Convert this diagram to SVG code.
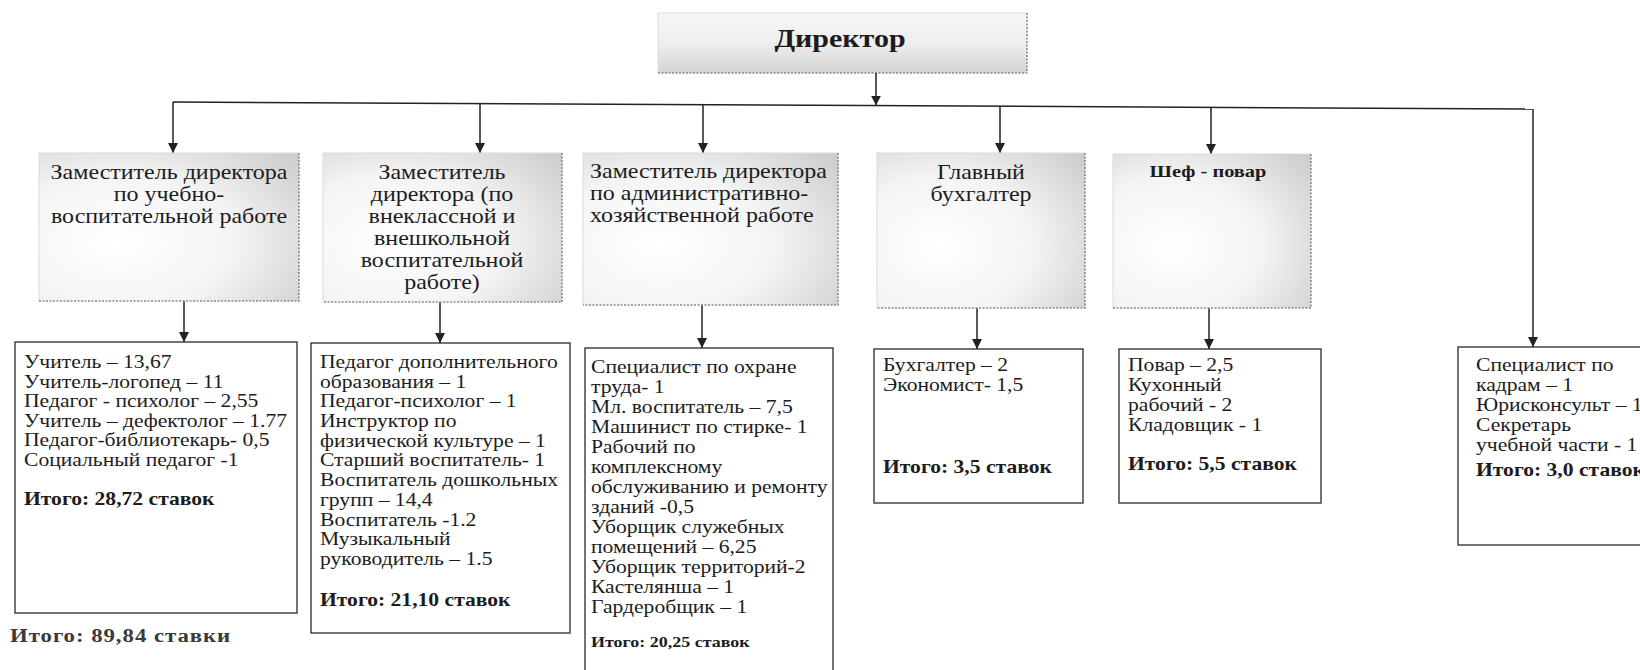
<svg xmlns="http://www.w3.org/2000/svg" width="1640" height="670" viewBox="0 0 1640 670">
<style>
.t{font-family:"Liberation Serif","Times New Roman",serif;font-size:18px;fill:#1c1c1c}
.h{font-size:20px}
.b{font-weight:bold}
.box{fill:#fff;stroke:#2a2a2a;stroke-width:1.3}
.edge{stroke:#8a8a8a;stroke-width:1.6;stroke-dasharray:2 1.5;fill:none}
.faint{stroke:#dadada;stroke-width:1;fill:none}
.ln{stroke:#222;stroke-width:1.5;fill:none}
</style>
<defs>
<radialGradient id="gL2" cx="0.3" cy="0.6" r="0.9">
<stop offset="0" stop-color="#ffffff"/>
<stop offset="0.5" stop-color="#f4f4f4"/>
<stop offset="1" stop-color="#cccccc"/>
</radialGradient>
<linearGradient id="gDir" x1="0" y1="0" x2="0" y2="1">
<stop offset="0" stop-color="#f7f7f7"/>
<stop offset="0.5" stop-color="#eeeeee"/>
<stop offset="1" stop-color="#d4d4d4"/>
</linearGradient>
<marker id="ah" viewBox="0 0 10 10" refX="10" refY="5" markerWidth="10" markerHeight="11" markerUnits="userSpaceOnUse" orient="auto">
<path d="M0,0 L10,5 L0,10 z" fill="#222"/>
</marker>
</defs>

<g id="director">
<rect x="658" y="13" width="369" height="60" fill="url(#gDir)"/>
<path class="faint" d="M658,73 V13 H1027"/>
<path class="edge" d="M1027,13 V73 H658"/>
<g transform="translate(840,0) scale(1.2,1)"><text class="t b" x="0" y="47" style="font-size:25px" text-anchor="middle">Директор</text></g>
</g>

<g id="connectors">
<path class="ln" d="M173,102 L1533,109"/>
<path class="ln" d="M876,73 V105.6" marker-end="url(#ah)"/>
<path class="ln" d="M173,102 V153" marker-end="url(#ah)"/>
<path class="ln" d="M480,103.6 V153" marker-end="url(#ah)"/>
<path class="ln" d="M703,104.7 V153" marker-end="url(#ah)"/>
<path class="ln" d="M1000,106.3 V153" marker-end="url(#ah)"/>
<path class="ln" d="M1211,107.3 V154" marker-end="url(#ah)"/>
<path class="ln" d="M1533,109 V347" marker-end="url(#ah)"/>
<path class="ln" d="M184,301 V342" marker-end="url(#ah)"/>
<path class="ln" d="M440,302 V343" marker-end="url(#ah)"/>
<path class="ln" d="M702,305 V348" marker-end="url(#ah)"/>
<path class="ln" d="M977,308 V349" marker-end="url(#ah)"/>
<path class="ln" d="M1209,308 V349" marker-end="url(#ah)"/>
</g>

<g id="dep1">
<rect x="39" y="153" width="260" height="148" fill="url(#gL2)"/>
<path class="faint" d="M39,301 V153 H299"/>
<path class="edge" d="M299,153 V301 H39"/>
<g transform="translate(169,0) scale(1.2,1)"><text class="t h" text-anchor="middle"><tspan x="0" y="179">Заместитель директора</tspan><tspan x="0" y="201">по учебно-</tspan><tspan x="0" y="223">воспитательной работе</tspan></text></g>
</g>

<g id="dep2">
<rect x="323" y="153" width="239" height="149" fill="url(#gL2)"/>
<path class="faint" d="M323,302 V153 H562"/>
<path class="edge" d="M562,153 V302 H323"/>
<g transform="translate(442,0) scale(1.2,1)"><text class="t h" text-anchor="middle"><tspan x="0" y="179">Заместитель</tspan><tspan x="0" y="201">директора (по</tspan><tspan x="0" y="223">внеклассной и</tspan><tspan x="0" y="245">внешкольной</tspan><tspan x="0" y="267">воспитательной</tspan><tspan x="0" y="289">работе)</tspan></text></g>
</g>

<g id="dep3">
<rect x="583" y="153" width="255" height="152" fill="url(#gL2)"/>
<path class="faint" d="M583,305 V153 H838"/>
<path class="edge" d="M838,153 V305 H583"/>
<g transform="translate(590,0) scale(1.2,1)"><text class="t h"><tspan x="0" y="178">Заместитель директора</tspan><tspan x="0" y="200">по административно-</tspan><tspan x="0" y="222">хозяйственной работе</tspan></text></g>
</g>

<g id="dep4">
<rect x="877" y="153" width="208" height="155" fill="url(#gL2)"/>
<path class="faint" d="M877,308 V153 H1085"/>
<path class="edge" d="M1085,153 V308 H877"/>
<g transform="translate(981,0) scale(1.2,1)"><text class="t h" text-anchor="middle"><tspan x="0" y="179">Главный</tspan><tspan x="0" y="201">бухгалтер</tspan></text></g>
</g>

<g id="dep5">
<rect x="1113" y="154" width="198" height="154" fill="url(#gL2)"/>
<path class="faint" d="M1113,308 V154 H1311"/>
<path class="edge" d="M1311,154 V308 H1113"/>
<g transform="translate(1208,0) scale(1.2,1)"><text class="t b" style="font-size:17px" text-anchor="middle" x="0" y="177">Шеф - повар</text></g>
</g>

<g id="staff1">
<rect class="box" x="15" y="342" width="282" height="271"/>
<g transform="translate(24,0) scale(1.2,1)"><text class="t"><tspan x="0" y="368">Учитель – 13,67</tspan><tspan x="0" y="387.6">Учитель-логопед – 11</tspan><tspan x="0" y="407.2">Педагог - психолог – 2,55</tspan><tspan x="0" y="426.8">Учитель – дефектолог – 1.77</tspan><tspan x="0" y="446.4">Педагог-библиотекарь- 0,5</tspan><tspan x="0" y="466">Социальный педагог -1</tspan><tspan class="b" x="0" y="505">Итого: 28,72 ставок</tspan></text></g>
</g>

<g id="staff2">
<rect class="box" x="311" y="343" width="259" height="290"/>
<g transform="translate(320,0) scale(1.2,1)"><text class="t"><tspan x="0" y="368">Педагог дополнительного</tspan><tspan x="0" y="387.7">образования – 1</tspan><tspan x="0" y="407.4">Педагог-психолог – 1</tspan><tspan x="0" y="427.1">Инструктор по</tspan><tspan x="0" y="446.8">физической культуре – 1</tspan><tspan x="0" y="466.5">Старший воспитатель- 1</tspan><tspan x="0" y="486.2">Воспитатель дошкольных</tspan><tspan x="0" y="505.9">групп – 14,4</tspan><tspan x="0" y="525.6">Воспитатель -1.2</tspan><tspan x="0" y="545.3">Музыкальный</tspan><tspan x="0" y="565">руководитель – 1.5</tspan><tspan class="b" x="0" y="606">Итого: 21,10 ставок</tspan></text></g>
</g>

<g id="staff3">
<rect class="box" x="585" y="348" width="248" height="330"/>
<g transform="translate(591,0) scale(1.2,1)"><text class="t"><tspan x="0" y="373">Специалист по охране</tspan><tspan x="0" y="393">труда- 1</tspan><tspan x="0" y="413">Мл. воспитатель – 7,5</tspan><tspan x="0" y="433">Машинист по стирке- 1</tspan><tspan x="0" y="453">Рабочий по</tspan><tspan x="0" y="473">комплексному</tspan><tspan x="0" y="493">обслуживанию и ремонту</tspan><tspan x="0" y="513">зданий -0,5</tspan><tspan x="0" y="533">Уборщик служебных</tspan><tspan x="0" y="553">помещений – 6,25</tspan><tspan x="0" y="573">Уборщик территорий-2</tspan><tspan x="0" y="593">Кастелянша – 1</tspan><tspan x="0" y="613">Гардеробщик – 1</tspan><tspan class="b" x="0" y="647" style="font-size:15px">Итого: 20,25 ставок</tspan></text></g>
</g>

<g id="staff4">
<rect class="box" x="874" y="349" width="209" height="154"/>
<g transform="translate(883,0) scale(1.2,1)"><text class="t"><tspan x="0" y="371">Бухгалтер – 2</tspan><tspan x="0" y="391">Экономист- 1,5</tspan><tspan class="b" x="0" y="473">Итого: 3,5 ставок</tspan></text></g>
</g>

<g id="staff5">
<rect class="box" x="1119" y="349" width="202" height="154"/>
<g transform="translate(1128,0) scale(1.2,1)"><text class="t"><tspan x="0" y="371">Повар – 2,5</tspan><tspan x="0" y="391">Кухонный</tspan><tspan x="0" y="411">рабочий - 2</tspan><tspan x="0" y="431">Кладовщик - 1</tspan><tspan class="b" x="0" y="470">Итого: 5,5 ставок</tspan></text></g>
</g>

<g id="staff6">
<rect class="box" x="1458" y="347" width="200" height="198"/>
<g transform="translate(1476,0) scale(1.2,1)"><text class="t"><tspan x="0" y="371">Специалист по</tspan><tspan x="0" y="391">кадрам – 1</tspan><tspan x="0" y="411">Юрисконсульт – 1</tspan><tspan x="0" y="431">Секретарь</tspan><tspan x="0" y="451">учебной части - 1</tspan><tspan class="b" x="0" y="476">Итого: 3,0 ставок</tspan></text></g>
</g>

<g id="total">
<g transform="translate(10,0) scale(1.2,1)"><text class="t b" x="0" y="642" style="font-size:19px;letter-spacing:0.8px;fill:#3a3a3a">Итого: 89,84 ставки</text></g>
</g>
</svg>
